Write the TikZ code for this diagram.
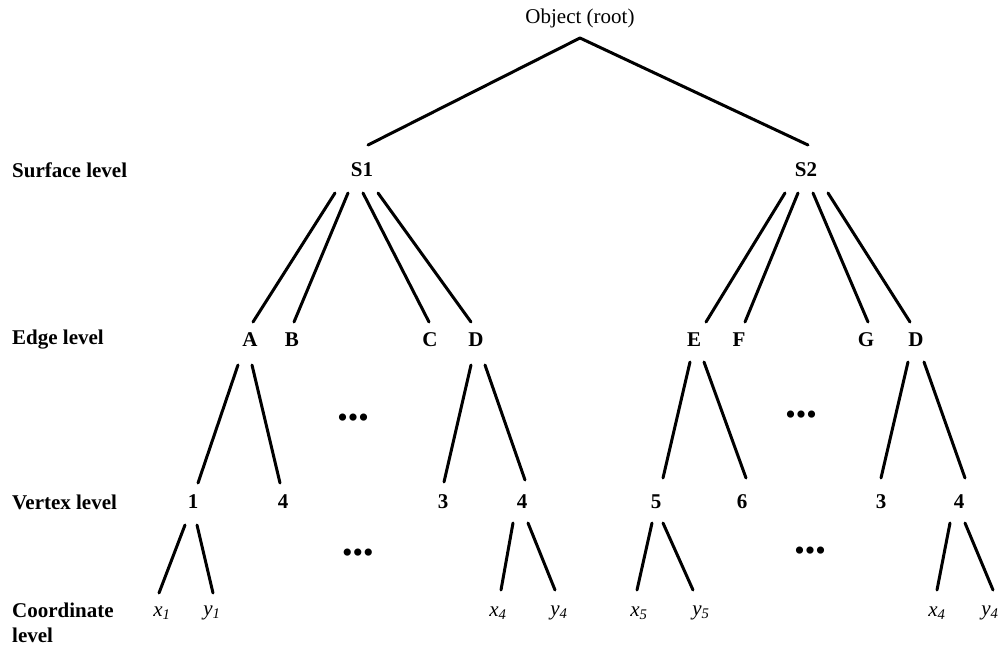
\documentclass[tikz,border=0pt]{standalone}
\usepackage{fontspec}
\setmainfont{Liberation Serif}
\begin{document}
\begin{tikzpicture}[x=1pt,y=-1pt,
  lbl/.style={font=\fontsize{21}{24}\selectfont\bfseries, inner sep=0pt},
  lvl/.style={font=\fontsize{21}{25}\selectfont\bfseries, inner sep=0pt, anchor=west, align=left},
  crd/.style={font=\fontsize{21}{24}\selectfont, inner sep=0pt},
  dots/.style={font=\fontsize{30}{30}\selectfont, inner sep=0pt},
  br/.style={line width=3pt, line cap=round}]
\useasboundingbox (0,0) rectangle (1001,648);
\fill[white] (0,0) rectangle (1001,648);
\newcommand{\conn}[6]{\draw[br] ([shift={(#2,#3)}]#1.center) -- ([shift={(#5,#6)}]#4.center);}
% level labels
\node[lvl] (Lsurf) at (12,170) {Surface level};
\node[lvl] (Ledge) at (12,340) {Edge level};
\node[lvl] (Lvert) at (12,502) {Vertex level};
\node[lvl] (Lcoord) at (12,623) {Coordinate\\level};
% tree nodes
\node[crd] (root) at (580,18) {Object (root)};
\node[lbl] (S1) at (362,170) {S1};
\node[lbl] (S2) at (806,170) {S2};
\node[lbl] (A) at (250,340) {A};
\node[lbl] (B) at (292,340) {B};
\node[lbl] (C) at (430,340) {C};
\node[lbl] (D1) at (476,340) {D};
\node[lbl] (E) at (694,340) {E};
\node[lbl] (F) at (739,340) {F};
\node[lbl] (G) at (866,340) {G};
\node[lbl] (D2) at (916,340) {D};
\node[lbl] (v1) at (193,502) {1};
\node[lbl] (v4a) at (283,502) {4};
\node[lbl] (v3a) at (443,502) {3};
\node[lbl] (v4b) at (522,502) {4};
\node[lbl] (v5) at (656,502) {5};
\node[lbl] (v6) at (742,502) {6};
\node[lbl] (v3b) at (881,502) {3};
\node[lbl] (v4c) at (959,502) {4};
\node[crd] (x1) at (162,613) {\itshape x\textsubscript{1}};
\node[crd] (y1) at (212,613) {\itshape y\textsubscript{1}};
\node[crd] (x4) at (498,613) {\itshape x\textsubscript{4}};
\node[crd] (y4) at (559,613) {\itshape y\textsubscript{4}};
\node[crd] (x5) at (639,613) {\itshape x\textsubscript{5}};
\node[crd] (y5) at (701,613) {\itshape y\textsubscript{5}};
\node[crd] (x4r) at (937,613) {\itshape x\textsubscript{4}};
\node[crd] (y4r) at (990,613) {\itshape y\textsubscript{4}};
% ellipses
\node[dots] (d1) at (353,421) {\textbullet\textbullet\textbullet};
\node[dots] (d2) at (358,556) {\textbullet\textbullet\textbullet};
\node[dots] (d3) at (801,418) {\textbullet\textbullet\textbullet};
\node[dots] (d4) at (810,554) {\textbullet\textbullet\textbullet};
% connectors
\conn{root}{0}{20}{S1}{6}{-25}
\conn{root}{0}{20}{S2}{2}{-25}
\conn{S1}{-27}{23}{A}{3}{-18}
\conn{S1}{-14}{23}{B}{2}{-18}
\conn{S1}{1}{23}{C}{-1}{-18}
\conn{S1}{16}{23}{D1}{-5}{-18}
\conn{S2}{-21}{23}{E}{12}{-18}
\conn{S2}{-8}{23}{F}{6}{-18}
\conn{S2}{7}{23}{G}{2}{-18}
\conn{S2}{22}{23}{D2}{-6}{-18}
\conn{A}{-12}{25}{v1}{5}{-19}
\conn{A}{2}{25}{v4a}{-3}{-19}
\conn{D1}{-5}{25}{v3a}{1}{-20}
\conn{D1}{9}{25}{v4b}{3}{-22}
\conn{E}{-4}{22}{v5}{7}{-24}
\conn{E}{10}{22}{v6}{4}{-24}
\conn{D2}{-8}{22}{v3b}{0}{-24}
\conn{D2}{8}{22}{v4c}{6}{-24}
\conn{v1}{-8}{23}{x1}{-3}{-20}
\conn{v1}{4}{23}{y1}{1}{-20}
\conn{v4b}{-9}{21}{x4}{3}{-23}
\conn{v4b}{6}{21}{y4}{-4}{-23}
\conn{v5}{-4}{21}{x5}{-2}{-23}
\conn{v5}{7}{21}{y5}{-8}{-23}
\conn{v4c}{-9}{21}{x4r}{0}{-23}
\conn{v4c}{6}{21}{y4r}{3}{-23}
\end{tikzpicture}
\end{document}
